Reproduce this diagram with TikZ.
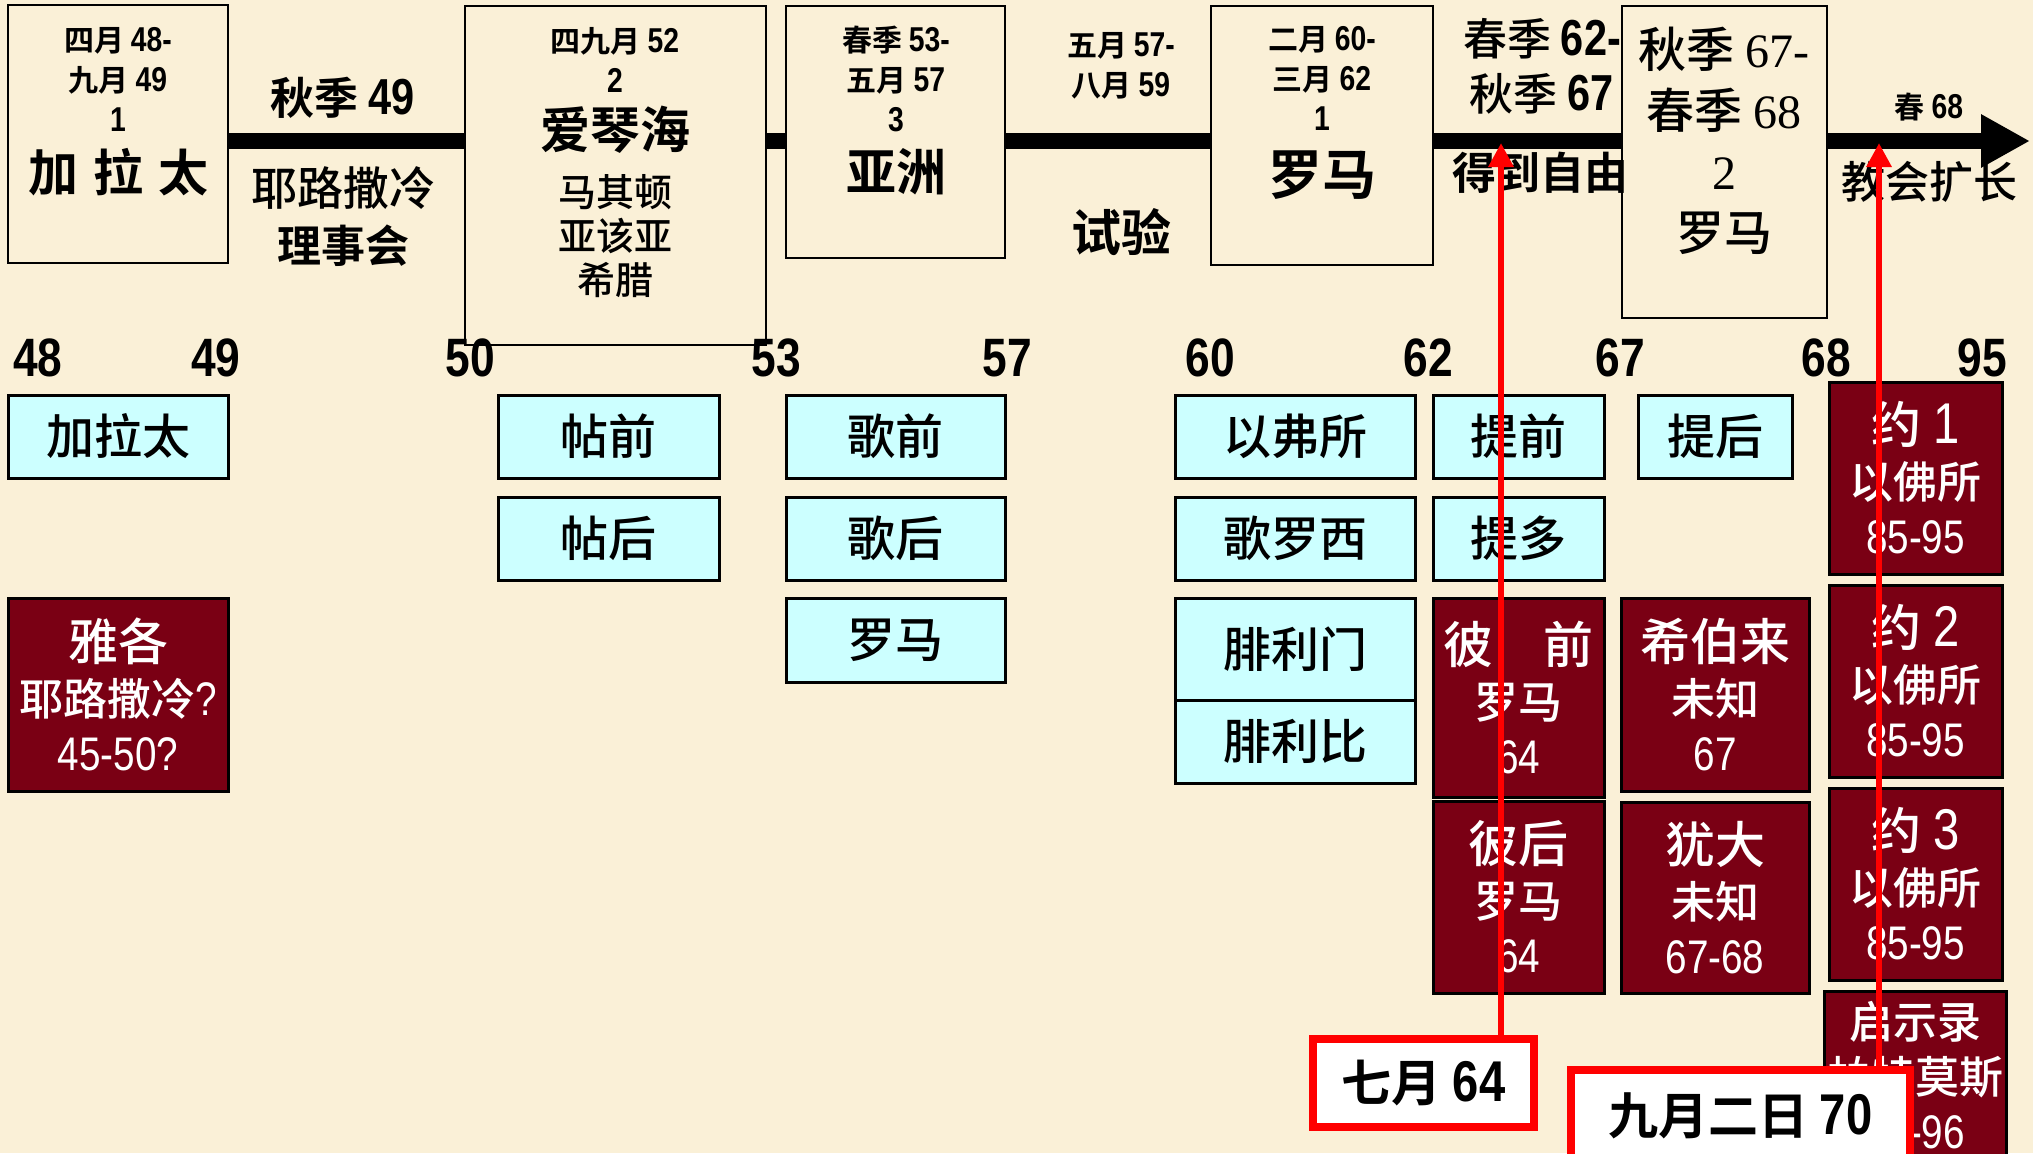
\documentclass[tikz,border=0pt]{standalone}
\usepackage{fontspec}
\setmainfont{Noto Sans CJK SC}[UprightFont={* Medium}, BoldFont={* Bold}]
\newfontfamily\nrw[FakeStretch=0.82,Scale=1.15]{Liberation Sans}
\newfontfamily\tms{Liberation Serif}
\newcommand{\firstln}[1]{{\fontsize{50}{55}\selectfont #1}}
\newcommand{\boxnum}[1]{{\nrw\fontsize{41}{55}\selectfont #1}}
\usetikzlibrary{arrows.meta}
\definecolor{BParch}{HTML}{FAF0D7}
\definecolor{LAqua}{HTML}{CCFFFF}
\definecolor{WMaroon}{HTML}{7A0014}
\definecolor{RRed}{HTML}{FF0000}
\tikzset{
    trip/.style = {draw, rectangle, line width=2.5pt, fill=BParch},
    epistle/.style = {draw, rectangle, line width=3pt, fill=LAqua,
        font=\fontsize{48}{55}\selectfont},
    late/.style = {draw, rectangle, line width=3pt, fill=WMaroon, text=white,
        align=center, font=\fontsize{44}{55}\selectfont},
    stamp/.style = {draw=RRed, rectangle, line width=8pt, fill=white,
        font=\fontsize{50}{55}\bfseries\selectfont},
    datelines/.style = {align=center, font=\fontsize{30}{40}\bfseries\selectfont},
    bigname/.style = {font=\fontsize{50}{55}\bfseries\selectfont},
    region/.style = {align=center, font=\fontsize{38}{44}\selectfont},
    romeII/.style = {align=center, font=\fontsize{48}{61}\selectfont},
    remark/.style = {align=center, font=\fontsize{44}{55}\selectfont},
    remarkb/.style = {align=center, font=\fontsize{44}{55}\bfseries\selectfont},
    yearno/.style = {font=\fontsize{47}{50}\nrw\bfseries},
    timeline/.style = {draw, line width=16pt, -{Triangle[width=50pt,length=49pt]}},
    redline/.style = {draw=RRed, line width=6pt, -{Triangle[width=24pt,length=24pt]}}
}

\begin{document}
\begin{tikzpicture}[x=1pt,y=-1pt]
    \useasboundingbox (0,0) rectangle (2033,1153);
    \fill[BParch] (0,0) rectangle (2033,1153);
    % time line
    \coordinate (barstart) at (228,141);
    \coordinate (tip) at (2030,141);
    \draw[timeline] (barstart) -- (tip);
    % journeys
    \node[trip, minimum width=220, minimum height=258] (trip1) at (118,134) {};
    \node[datelines] (d1) at (118,79) {四月 {\nrw 48-}\\九月 {\nrw 49}\\{\nrw 1}};
    \node[bigname] (n1) at (118,172) {加\hspace{.3em}拉\hspace{.3em}太};
    \node[trip, minimum width=301, minimum height=339] (trip2) at (615.5,175.5) {};
    \node[datelines] (d2) at (615,60) {四九月 {\nrw 52}\\{\nrw 2}};
    \node[bigname] (n2) at (615,130) {爱琴海};
    \node[region] (r2) at (615,236) {马其顿\\亚该亚\\希腊};
    \node[trip, minimum width=219, minimum height=252] (trip3) at (895.5,132) {};
    \node[datelines] (d3) at (896,79) {春季 {\nrw 53-}\\五月 {\nrw 57}\\{\nrw 3}};
    \node[bigname] (n3) at (896,172) {亚洲};
    \node[trip, minimum width=222, minimum height=259] (rome1) at (1322,135.5) {};
    \node[datelines] (d4) at (1322,78) {二月 {\nrw 60-}\\三月 {\nrw 62}\\{\nrw 1}};
    \node[bigname, font=\fontsize{54}{55}\bfseries\selectfont] (n4) at (1322,175) {罗马};
    \node[trip, minimum width=205, minimum height=312] (rome2) at (1724.5,162) {};
    \node[romeII] (d5) at (1724,141) {秋季 {\tms 67-}\\春季 {\tms 68}\\{\tms 2}\\罗马};
    % between the boxes
    \node[remarkb] (aut49) at (343,98) {秋季 {\nrw 49}};
    \node[remark, font=\fontsize{46}{55}\selectfont] (jeru) at (343,188) {耶路撒冷};
    \node[remarkb] (council) at (343,246) {理事会};
    \node[datelines] (aug59) at (1121,66) {五月 {\nrw 57-}\\八月 {\nrw 59}};
    \node[bigname] (trial) at (1121,232) {试验};
    \node[remark] (aut67) at (1542,66) {春季 {\nrw\bfseries 62-}\\秋季 {\nrw\bfseries 67}};
    \node[remarkb] (liberty) at (1540,173) {得到自由};
    \node[datelines] (spr68) at (1929,107) {春 {\nrw 68}};
    \node[remark] (growth) at (1929,182) {教会扩长};
    % years
    \foreach \yr/\px in {48/38,49/216,50/470,53/776,57/1007,60/1210,62/1428,67/1620,68/1826,95/1982}
        \node[yearno] (y\yr) at (\px,358) {\yr};
    % letters
    \node[epistle, minimum width=220, minimum height=83] (gal) at (118,436.5) {加拉太};
    \node[epistle, minimum width=221, minimum height=83] (thes1) at (608.5,436.5) {帖前};
    \node[epistle, minimum width=221, minimum height=83] (thes2) at (608.5,538.5) {帖后};
    \node[epistle, minimum width=219, minimum height=83] (cor1) at (895.5,436.5) {歌前};
    \node[epistle, minimum width=219, minimum height=83] (cor2) at (895.5,538.5) {歌后};
    \node[epistle, minimum width=219, minimum height=84] (rom) at (895.5,640) {罗马};
    \node[epistle, minimum width=240, minimum height=83] (eph) at (1295,436.5) {以弗所};
    \node[epistle, minimum width=240, minimum height=83] (col) at (1295,538.5) {歌罗西};
    \node[epistle, minimum width=240, minimum height=102] (phm) at (1295,649) {腓利门};
    \node[epistle, minimum width=240, minimum height=83] (phil) at (1295,741.5) {腓利比};
    \node[epistle, minimum width=171, minimum height=83] (tim1) at (1518.5,436.5) {提前};
    \node[epistle, minimum width=171, minimum height=83] (tit) at (1518.5,538.5) {提多};
    \node[epistle, minimum width=154, minimum height=83] (tim2) at (1715,436.5) {提后};
    % general letters
    \node[late, minimum width=220, minimum height=193] (jas) at (118,694.5) {\firstln{雅各}\\耶路撒冷\boxnum{?}\\\boxnum{45-50?}};
    \node[late, minimum width=171, minimum height=199] (pet1) at (1518.5,697.5) {\firstln{彼\quad 前}\\罗马\\\boxnum{64}};
    \node[late, minimum width=188, minimum height=193] (heb) at (1715,694.5) {\firstln{希伯来}\\未知\\\boxnum{67}};
    \node[late, minimum width=173, minimum height=192] (jn1) at (1915.5,478) {\firstln{约 {\nrw 1}}\\以佛所\\\boxnum{85-95}};
    \node[late, minimum width=173, minimum height=192] (jn2) at (1915.5,681) {\firstln{约 {\nrw 2}}\\以佛所\\\boxnum{85-95}};
    \node[late, minimum width=171, minimum height=192] (pet2) at (1518.5,897) {\firstln{彼后}\\罗马\\\boxnum{64}};
    \node[late, minimum width=188, minimum height=191] (jude) at (1715,897.5) {\firstln{犹大}\\未知\\\boxnum{67-68}};
    \node[late, minimum width=173, minimum height=192] (jn3) at (1915.5,884) {\firstln{约 {\nrw 3}}\\以佛所\\\boxnum{85-95}};
    \node[late, minimum width=173, minimum height=169] (rev) at (1915.5,1075.5) {启示录\\帕特莫斯\\\boxnum{95-96}};
    % martyrdom dates
    \node[stamp, minimum width=221, minimum height=88] (jul64) at (1423.5,1083) {七月 {\nrw 64}};
    \node[stamp, minimum width=339, minimum height=92] (sep70) at (1740.5,1116) {九月二日 {\nrw 70}};
    \coordinate (arr64) at (1501,143);
    \coordinate (arr70) at (1879,143);
    \draw[redline] (jul64.north -| arr64) -- (arr64);
    \draw[redline] (sep70.north -| arr70) -- (arr70);
\end{tikzpicture}
\end{document}
